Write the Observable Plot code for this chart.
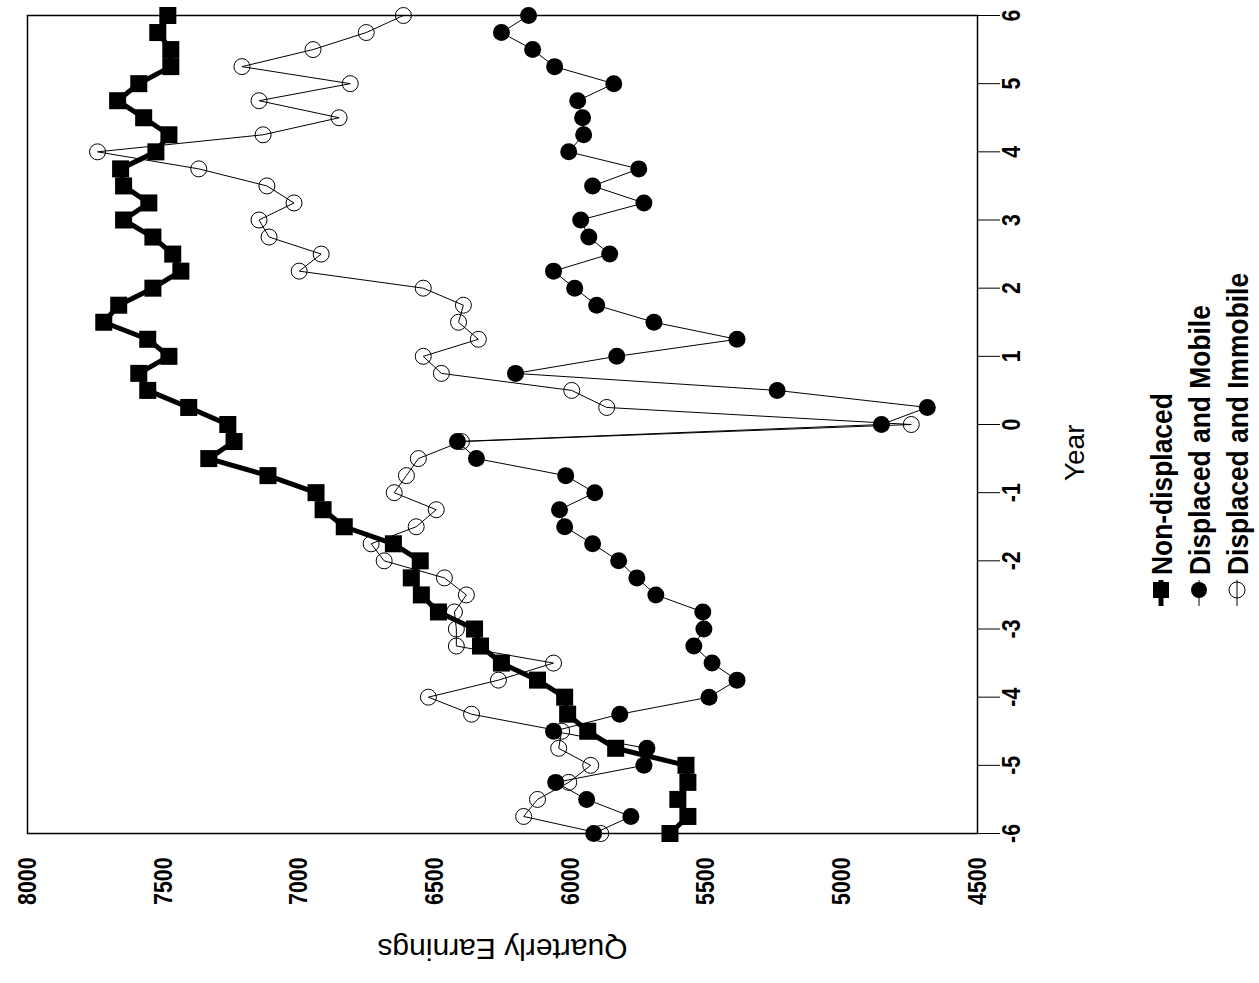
<!DOCTYPE html>
<html>
<head>
<meta charset="utf-8">
<script src="https://cdn.jsdelivr.net/npm/d3@7"></script>
<script src="https://cdn.jsdelivr.net/npm/@observablehq/plot@0.6"></script>
<style>
  html, body { margin: 0; padding: 0; background: #fff; }
  #chart { position: relative; width: 1259px; height: 983px; overflow: hidden; }
</style>
</head>
<body>
<div id="chart"></div>
<script>
// ---- Data ----
const quarters = [-6, -5.75, -5.5, -5.25, -5, -4.75, -4.5, -4.25, -4, -3.75, -3.5, -3.25, -3,
  -2.75, -2.5, -2.25, -2, -1.75, -1.5, -1.25, -1, -0.75, -0.5, -0.25, 0, 0.25, 0.5, 0.75, 1,
  1.25, 1.5, 1.75, 2, 2.25, 2.5, 2.75, 3, 3.25, 3.5, 3.75, 4, 4.25, 4.5, 4.75, 5, 5.25, 5.5, 5.75, 6];

const nonDisplaced = [5633, 5567, 5604, 5567, 5574, 5833, 5936, 6010, 6021, 6121,
  6254, 6331, 6353, 6486, 6549, 6586, 6553, 6652, 6833, 6911,
  6937, 7114, 7332, 7239, 7262, 7406, 7557, 7590, 7479, 7557,
  7719, 7664, 7538, 7435, 7465, 7538, 7646, 7553, 7646, 7657,
  7527, 7479, 7572, 7668, 7590, 7472, 7472, 7520, 7483];

const displacedMobile = [5914, 5777, 5940, 6054, 5729, 5718, 6062, 5818, 5489, 5386,
  5478, 5545, 5508, 5512, 5685, 5755, 5822, 5918, 6021, 6040,
  5910, 6017, 6346, 6416, 4854, 4685, 5238, 6202, 5829, 5386,
  5692, 5903, 5984, 6062, 5855, 5932, 5962, 5729, 5918, 5748,
  6006, 5951, 5955, 5973, 5840, 6058, 6139, 6254, 6154];

const displacedImmobile = [5888, 6172, 6121, 6006, 5925, 6043, 6032, 6364, 6523, 6265,
  6062, 6420, 6420, 6427, 6383, 6464, 6686, 6734, 6568, 6494,
  6649, 6604, 6560, 6401, 4744, 5866, 5995, 6475, 6542, 6339,
  6412, 6394, 6542, 6999, 6918, 7110, 7147, 7018, 7118, 7369,
  7742, 7132, 6852, 7147, 6811, 7210, 6948, 6752, 6615];

const yearTicks = [-6, -5, -4, -3, -2, -1, 0, 1, 2, 3, 4, 5, 6];
const earningsTicks = [8000, 7500, 7000, 6500, 6000, 5500, 5000, 4500];
const seriesNames = ["Non-displaced", "Displaced and Mobile", "Displaced and Immobile"];
const xTitle = "Year";
const yTitle = "Quarterly Earnings";

// ---- Build tables ----
const toRows = (vals, name) => quarters.map((q, i) => ({year: q, earnings: vals[i], series: name}));
const ndRows = toRows(nonDisplaced, seriesNames[0]);
const moRows = toRows(displacedMobile, seriesNames[1]);
const imRows = toRows(displacedImmobile, seriesNames[2]);

const boldFont = '"Liberation Sans", Arial, sans-serif';
const plainFont = '"Liberation Sans", Arial, sans-serif';
const condense = 0.82; // narrow-bold look of the original typeface

const chart = Plot.plot({
  width: 1259,
  height: 983,
  marginLeft: 27,
  marginRight: 282,
  marginTop: 15,
  marginBottom: 150,
  style: {background: "white", color: "black", fontFamily: plainFont, overflow: "visible"},
  x: {domain: [8000, 4500], axis: null},
  y: {domain: [-6, 6]},
  marks: [
    Plot.axisY(yearTicks, {anchor: "right", tickSize: 22, fill: "none", label: null, strokeWidth: 1}),
    Plot.text(yearTicks, {
      y: d => d, text: d => String(d), frameAnchor: "right", dx: 34, rotate: -90,
      textAnchor: "middle", lineAnchor: "middle",
      fontSize: 26, fontWeight: "bold", fontFamily: boldFont
    }),
    Plot.text(earningsTicks, {
      x: d => d, text: d => String(d), frameAnchor: "bottom", dy: 24, rotate: -90,
      textAnchor: "end", lineAnchor: "middle",
      fontSize: 26, fontWeight: "bold", fontFamily: boldFont
    }),
    Plot.text([yTitle], {frameAnchor: "bottom", dy: 115, rotate: 180, fontSize: 30, lineAnchor: "middle", fontFamily: plainFont}),
    Plot.text([xTitle], {frameAnchor: "right", dx: 98, rotate: -90, fontSize: 28, lineAnchor: "middle", fontFamily: plainFont}),

    Plot.line(imRows, {x: "earnings", y: "year", stroke: "black", strokeWidth: 1}),
    Plot.dot(imRows, {x: "earnings", y: "year", r: 8, stroke: "black", fill: "none", strokeWidth: 1}),

    Plot.line(moRows, {x: "earnings", y: "year", stroke: "black", strokeWidth: 1}),
    Plot.dot(moRows, {x: "earnings", y: "year", r: 8.5, fill: "black", stroke: "none"}),

    Plot.line(ndRows, {x: "earnings", y: "year", stroke: "black", strokeWidth: 5}),
    Plot.dot(ndRows, {x: "earnings", y: "year", symbol: "square", r: 9.6, fill: "black", stroke: "none"}),

    Plot.frame({stroke: "black", strokeWidth: 1.5})
  ]
});

// condense the bold tick labels (original uses a narrow bold face)
const svg = d3.select(chart);
const textGroups = svg.selectAll('g[aria-label="text"]').nodes();
[textGroups[0], textGroups[1]].forEach(g => {
  d3.select(g).selectAll("text").each(function () {
    const t = this.getAttribute("transform") || "";
    this.setAttribute("transform", t + ` scale(${condense},1)`);
  });
});

// ---- Legend (rotated, to the right of the year axis) ----
const legendX = [1161, 1199, 1237];
const legendY = 590;
const leg = svg.append("g").attr("class", "legend");
seriesNames.forEach((name, i) => {
  const g = leg.append("g").attr("transform", `translate(${legendX[i]},${legendY})`);
  g.append("line").attr("x1", 0).attr("x2", 0).attr("y1", -10).attr("y2", 16)
    .attr("stroke", "black").attr("stroke-width", i === 0 ? 5 : 1);
  if (i === 0) {
    g.append("rect").attr("x", -8).attr("y", -8).attr("width", 16).attr("height", 16).attr("fill", "black");
  } else if (i === 1) {
    g.append("circle").attr("r", 8).attr("fill", "black");
  } else {
    g.append("circle").attr("r", 8).attr("fill", "none").attr("stroke", "black").attr("stroke-width", 1);
  }
  leg.append("text")
    .attr("transform", `translate(${legendX[i]},${legendY - 15}) rotate(-90) scale(0.88,1)`)
    .attr("text-anchor", "start")
    .attr("dominant-baseline", "central")
    .attr("font-family", boldFont)
    .attr("font-weight", "bold")
    .attr("font-size", 30)
    .attr("fill", "black")
    .text(name);
});

document.getElementById("chart").appendChild(chart);
</script>
</body>
</html>
